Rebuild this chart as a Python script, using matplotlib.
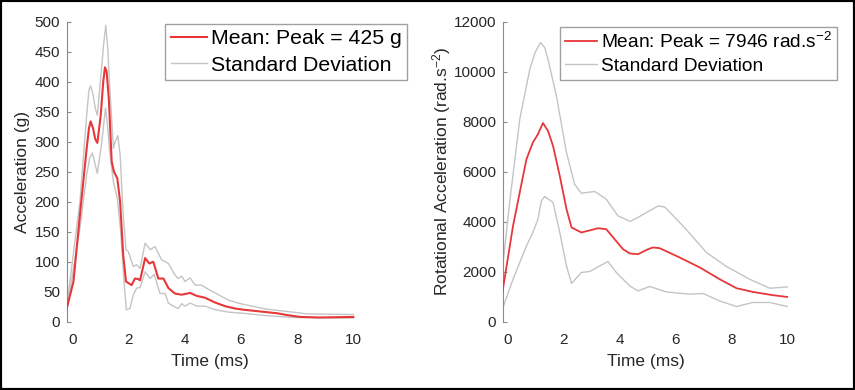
import matplotlib
matplotlib.use('Agg')
import matplotlib.pyplot as plt
from matplotlib.patches import Rectangle

plt.rcParams['font.family'] = ['Liberation Sans', 'DejaVu Sans']
plt.rcParams['mathtext.fontset'] = 'custom'
plt.rcParams['mathtext.rm'] = 'Liberation Sans'

# Linear acceleration (g)
lin_t_mean = [-0.2, 0.04, 0.27, 0.51, 0.59, 0.65, 0.74, 0.81, 0.89, 1.01, 1.10, 1.16, 1.22, 1.30,
              1.40, 1.48, 1.60, 1.70, 1.81, 1.91, 2.11, 2.23, 2.35, 2.41, 2.59, 2.74, 2.88, 3.06,
              3.24, 3.42, 3.65, 3.89, 4.19, 4.43, 4.72, 5.08, 5.43, 5.79, 6.09, 6.7, 7.3, 7.65,
              8.1, 8.8, 10.0]
lin_mean = [22, 67, 178, 289, 322, 334, 322, 305, 298, 344, 400, 424, 417, 370,
            267, 250, 239, 200, 111, 67, 61, 72, 71, 69, 106, 97, 100, 72,
            72, 56, 47, 45, 48, 43, 40, 32, 26, 22, 20, 17, 14, 11,
            8, 7, 8]

lin_t_up = [-0.2, 0.27, 0.51, 0.59, 0.65, 0.74, 0.82, 0.89, 1.05, 1.11, 1.19, 1.26, 1.32, 1.46,
            1.52, 1.62, 1.70, 1.81, 1.91, 1.99, 2.17, 2.29, 2.41, 2.59, 2.77, 2.94, 3.18, 3.42,
            3.65, 3.77, 3.89, 4.01, 4.19, 4.37, 4.60, 4.84, 5.20, 5.55, 5.91, 6.09, 6.9, 7.65,
            8.36, 10.0]
lin_up = [25, 200, 344, 386, 393, 378, 355, 344, 428, 461, 494, 456, 400, 289,
          300, 310, 278, 178, 120, 117, 92, 95, 89, 131, 120, 125, 103, 97,
          78, 72, 76, 67, 73, 61, 61, 54, 45, 36, 31, 29, 21, 17,
          13, 12]

lin_t_lo = [-0.2, 0.27, 0.51, 0.62, 0.71, 0.80, 0.89, 1.05, 1.12, 1.18, 1.24, 1.32, 1.46, 1.60,
            1.72, 1.84, 1.92, 2.05, 2.17, 2.29, 2.41, 2.59, 2.77, 2.91, 3.12, 3.30, 3.42, 3.63,
            3.77, 3.89, 4.01, 4.19, 4.43, 4.72, 5.08, 5.55, 6.09, 6.93, 7.88, 10.0]
lin_lo = [18, 156, 245, 273, 281, 265, 247, 300, 330, 356, 333, 289, 233, 206,
          150, 67, 20, 22, 45, 56, 57, 83, 72, 79, 47, 47, 31, 25,
          22, 30, 26, 31, 26, 26, 20, 16, 14, 10, 7, 6]

# Rotational acceleration (rad/s^2)
rot_t_mean = [-0.19, 0.19, 0.43, 0.67, 0.90, 1.08, 1.26, 1.44, 1.62, 1.86, 2.10, 2.28, 2.63, 2.99,
              3.23, 3.52, 3.82, 4.12, 4.36, 4.65, 5.01, 5.19, 5.43, 6.14, 6.86, 7.57, 8.17,
              8.76, 9.48, 9.98]
rot_mean = [1170, 3830, 5170, 6500, 7170, 7500, 7950, 7630, 7030, 5830, 4500, 3770, 3570, 3670,
            3740, 3700, 3300, 2900, 2730, 2700, 2900, 2970, 2940, 2570, 2170, 1700, 1340,
            1190, 1060, 990]

rot_t_up = [-0.19, 0.07, 0.43, 0.79, 0.98, 1.17, 1.32, 1.44, 1.74, 2.10, 2.39, 2.63, 3.11, 3.52,
            3.94, 4.38, 4.71, 5.37, 5.61, 6.26, 7.10, 7.81, 8.64, 9.36, 9.98]
rot_up = [2100, 4770, 8100, 10100, 10770, 11170, 10970, 10500, 9030, 6770, 5500, 5140, 5210, 4900,
          4230, 4010, 4210, 4630, 4590, 3830, 2770, 2210, 1700, 1340, 1390]

rot_t_lo = [-0.19, 0.19, 0.67, 0.90, 1.08, 1.20, 1.32, 1.62, 1.86, 2.10, 2.28, 2.63, 2.93, 3.58,
            3.88, 4.36, 4.65, 5.07, 5.67, 6.50, 6.98, 7.57, 8.17, 8.76, 9.36, 9.98]
rot_lo = [500, 1700, 3030, 3570, 4100, 4830, 5010, 4770, 3570, 2230, 1530, 1970, 2010, 2410,
          1970, 1430, 1230, 1410, 1190, 1100, 1130, 830, 610, 770, 770, 610]

red = '#e8373a'
grey = '#c4c4c4'
txt = '#262626'

fig = plt.figure(figsize=(8.55, 3.9), dpi=100)
ax1 = fig.add_axes([67 / 855, 0.1751, 0.3415, 0.7692])
ax2 = fig.add_axes([503.3 / 855, 0.1751, 0.3392, 0.7692])


def style(ax):
    for s in ['top', 'right', 'bottom']:
        ax.spines[s].set_visible(False)
    ax.spines['left'].set_color('#8a8a8a')
    ax.tick_params(axis='y', direction='in', length=3, color='#8a8a8a',
                   labelsize=11, labelcolor=txt, pad=5)
    ax.tick_params(axis='x', length=0, labelsize=11, labelcolor=txt, pad=8)
    ax.set_xticks([0, 2, 4, 6, 8, 10])


leg_kw = dict(loc='upper right', frameon=True, fancybox=False,
              edgecolor='#a0a0a0', framealpha=1, borderaxespad=0, borderpad=0.25,
              handlelength=1.7, handletextpad=0.2)

# left panel
ax1.plot(lin_t_mean, lin_mean, color=red, lw=1.5, label='Mean: Peak = 425 g', zorder=3)
ax1.plot(lin_t_up, lin_up, color=grey, lw=1.0, label='Standard Deviation')
ax1.plot(lin_t_lo, lin_lo, color=grey, lw=1.0)
ax1.set_xlim(-0.19, 10.2)
ax1.set_ylim(0, 500)
ax1.set_yticks(range(0, 501, 50))
style(ax1)
ax1.set_xlabel('Time (ms)', fontsize=12.5, color=txt)
ax1.set_ylabel('Acceleration (g)', fontsize=12.5, color=txt)
ax1.xaxis.set_label_coords(0.49, -0.107)
ax1.yaxis.set_label_coords(-0.127, 0.5)
ax1.legend(bbox_to_anchor=(407 / 855, 1 - 24 / 390), bbox_transform=fig.transFigure,
           fontsize=15.3, labelspacing=0.35, **leg_kw)

# right panel
ax2.plot(rot_t_mean, rot_mean, color=red, lw=1.3,
         label=r'Mean: Peak = 7946 rad.s$\mathregular{^{-2}}$', zorder=3)
ax2.plot(rot_t_up, rot_up, color=grey, lw=1.0, label='Standard Deviation')
ax2.plot(rot_t_lo, rot_lo, color=grey, lw=1.0)
ax2.set_xlim(-0.157, 10.2)
ax2.set_ylim(0, 12000)
ax2.set_yticks(range(0, 12001, 2000))
style(ax2)
ax2.set_xlabel('Time (ms)', fontsize=12.5, color=txt)
ax2.set_ylabel(r'Rotational Acceleration (rad.s$\mathregular{^{-2}}$)', fontsize=12.5, color=txt)
ax2.xaxis.set_label_coords(0.49, -0.107)
ax2.yaxis.set_label_coords(-0.175, 0.5)
ax2.legend(bbox_to_anchor=(837 / 855, 1 - 27 / 390), bbox_transform=fig.transFigure,
           fontsize=13.8, labelspacing=0.3, **leg_kw)

# black frame around the picture
fig.patches.append(Rectangle((0, 0), 1, 1, transform=fig.transFigure, fill=False,
                             edgecolor='black', lw=3))

plt.savefig('out.png', dpi=100)
